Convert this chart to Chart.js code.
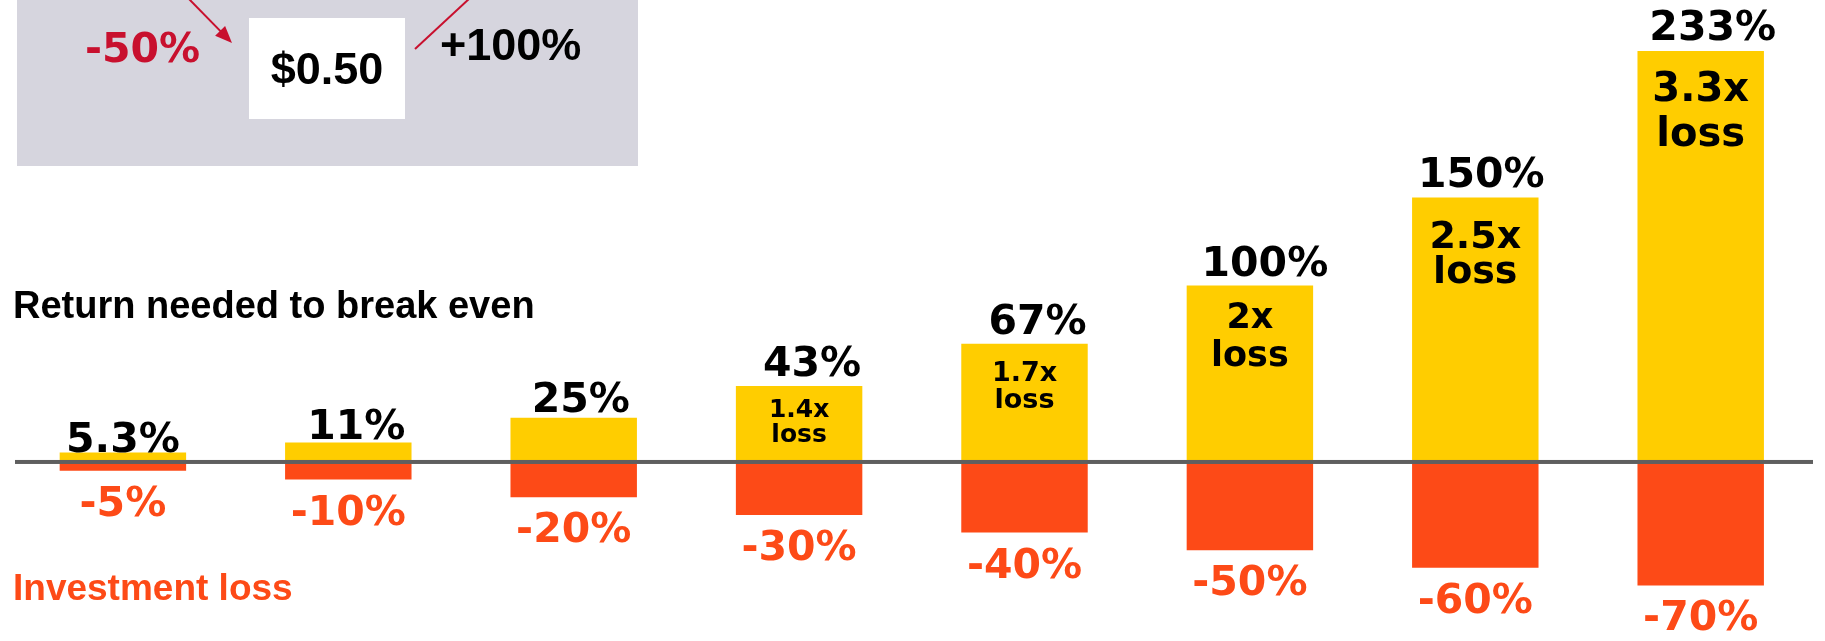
<!DOCTYPE html>
<html>
<head>
<meta charset="utf-8">
<script src="https://cdn.jsdelivr.net/npm/chart.js@4.4.1/dist/chart.umd.min.js"></script>
<style>
  html, body { margin: 0; padding: 0; background: #ffffff; }
  #wrap { width: 1825px; height: 641px; }
</style>
</head>
<body>
<div id="wrap"><canvas id="c" width="1825" height="641"></canvas></div>
<script>
// ---------- DATA ----------
const categories = ['-5%', '-10%', '-20%', '-30%', '-40%', '-50%', '-60%', '-70%'];
const lossValues = [-5, -10, -20, -30, -40, -50, -60, -70];
const breakEvenValues = [5.3, 11, 25, 43, 67, 100, 150, 233];
const breakEvenLabels = ['5.3%', '11%', '25%', '43%', '67%', '100%', '150%', '233%'];
const lossLabels = ['-5%', '-10%', '-20%', '-30%', '-40%', '-50%', '-60%', '-70%'];
const multipleLabels = ['', '', '', '1.4x', '1.7x', '2x', '2.5x', '3.3x'];
const lossWord = 'loss';
const titleBreakEven = 'Return needed to break even';
const titleLoss = 'Investment loss';
const boxLeftLabel = '-50%';
const boxMidLabel = '$0.50';
const boxRightLabel = '+100%';

// ---------- STYLE ----------
const YELLOW = '#ffcd00';
const ORANGE = '#fd4a17';
const CRIMSON = '#c8102e';
const GREYBOX = '#d6d5de';
const AXIS = '#5f5f5f';
const WIDE = '"DejaVu Sans", sans-serif';
const NARROW = '"Liberation Sans", Arial, sans-serif';
const multFontSizes = [0, 0, 0, 25, 27, 35, 38, 40];
const multFirstOffset = [0, 0, 0, 31, 37, 42, 51, 50];
const multLineGap = [0, 0, 0, 25, 27, 38, 35, 45];
const valueGap = [1, 4, 6, 10, 10, 10, 10, 11];
const valueShift = [0, 8, 7, 13, 13, 15, 6, 12];

function txt(ctx, s, x, y, font, color, align) {
  ctx.font = font;
  ctx.fillStyle = color;
  ctx.textAlign = align || 'left';
  ctx.textBaseline = 'alphabetic';
  ctx.fillText(s, x, y);
}

function arrowLine(ctx, x1, y1, x2, y2, head) {
  ctx.save();
  ctx.strokeStyle = CRIMSON;
  ctx.fillStyle = CRIMSON;
  ctx.lineWidth = 2;
  const a = Math.atan2(y2 - y1, x2 - x1);
  const ex = head ? x2 - Math.cos(a) * 12 : x2;
  const ey = head ? y2 - Math.sin(a) * 12 : y2;
  ctx.beginPath();
  ctx.moveTo(x1, y1);
  ctx.lineTo(ex, ey);
  ctx.stroke();
  if (head) {
    const L = 17, W = 7;
    const bx = x2 - Math.cos(a) * L, by = y2 - Math.sin(a) * L;
    ctx.beginPath();
    ctx.moveTo(x2, y2);
    ctx.lineTo(bx + Math.sin(a) * W, by - Math.cos(a) * W);
    ctx.lineTo(bx - Math.sin(a) * W, by + Math.cos(a) * W);
    ctx.closePath();
    ctx.fill();
  }
  ctx.restore();
}

const deco = {
  id: 'deco',
  beforeDraw(chart) {
    const ctx = chart.ctx;
    ctx.save();
    ctx.fillStyle = '#ffffff';
    ctx.fillRect(0, 0, chart.width, chart.height);
    // grey explanation box
    ctx.fillStyle = GREYBOX;
    ctx.fillRect(17, 0, 621, 166);
    ctx.fillStyle = '#ffffff';
    ctx.fillRect(249, 18, 156, 101);
    arrowLine(ctx, 188, -2, 232, 43, true);
    arrowLine(ctx, 415, 49, 470, -2, false);
    txt(ctx, boxLeftLabel, 85, 62, 'bold 41px ' + WIDE, CRIMSON, 'left');
    txt(ctx, boxMidLabel, 327, 84, 'bold 45px ' + NARROW, '#000000', 'center');
    txt(ctx, boxRightLabel, 440, 60, 'bold 45px ' + NARROW, '#000000', 'left');
    // titles
    txt(ctx, titleBreakEven, 13, 318, 'bold 38px ' + NARROW, '#000000', 'left');
    txt(ctx, titleLoss, 13, 600, 'bold 37px ' + NARROW, ORANGE, 'left');
    ctx.restore();
  },
  afterDatasetsDraw(chart) {
    const ctx = chart.ctx;
    const y0 = chart.scales.y.getPixelForValue(0);
    ctx.save();
    ctx.fillStyle = AXIS;
    ctx.fillRect(15, y0 - 2, 1798, 4);
    const up = chart.getDatasetMeta(0).data;
    const dn = chart.getDatasetMeta(1).data;
    for (let i = 0; i < categories.length; i++) {
      const u = up[i], d = dn[i];
      txt(ctx, breakEvenLabels[i], u.x + valueShift[i], u.y - valueGap[i], 'bold 41px ' + WIDE, '#000000', 'center');
      txt(ctx, lossLabels[i], d.x, d.y + 45, 'bold 41px ' + WIDE, ORANGE, 'center');
      if (multipleLabels[i]) {
        const fs = multFontSizes[i];
        const f = 'bold ' + fs + 'px ' + WIDE;
        txt(ctx, multipleLabels[i], u.x, u.y + multFirstOffset[i], f, '#000000', 'center');
        txt(ctx, lossWord, u.x, u.y + multFirstOffset[i] + multLineGap[i], f, '#000000', 'center');
      }
    }
    ctx.restore();
  }
};

new Chart(document.getElementById('c'), {
  type: 'bar',
  data: {
    labels: categories,
    datasets: [
      { label: 'Return needed to break even', data: breakEvenValues, backgroundColor: YELLOW, borderWidth: 0 },
      { label: 'Investment loss', data: lossValues, backgroundColor: ORANGE, borderWidth: 0 }
    ]
  },
  options: {
    responsive: false,
    animation: false,
    devicePixelRatio: 1,
    layout: { padding: { left: 10.2, right: 11.6, top: 0, bottom: 0 } },
    datasets: { bar: { categoryPercentage: 1.0, barPercentage: 0.561 } },
    plugins: { legend: { display: false }, tooltip: { enabled: false } },
    scales: {
      x: { stacked: true, display: false, offset: true },
      y: { stacked: true, display: false, min: -101.5, max: 261.9 }
    }
  },
  plugins: [deco]
});
</script>
</body>
</html>
